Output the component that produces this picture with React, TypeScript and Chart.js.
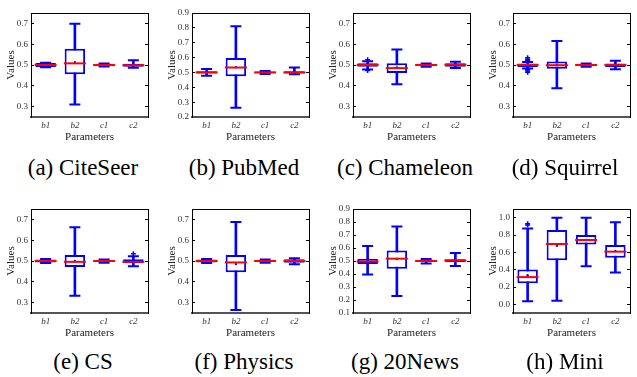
import React, { useEffect, useRef } from 'react';
import { Chart, registerables } from 'chart.js';

Chart.register(...registerables);

const PARAMETERS = ['b1', 'b2', 'c1', 'c2'];
const CAPTIONS = ['(a) CiteSeer', '(b) PubMed', '(c) Chameleon', '(d) Squirrel', '(e) CS', '(f) Physics', '(g) 20News', '(h) Mini'];

// tick values of the y axes
const TICKS_MID = [0.3, 0.4, 0.5, 0.6, 0.7];
const TICKS_PUBMED = [0.2, 0.3, 0.4, 0.5, 0.6, 0.7, 0.8, 0.9];
const TICKS_NEWS = [0.1, 0.2, 0.3, 0.4, 0.5, 0.6, 0.7, 0.8, 0.9];
const TICKS_MINI = [0.0, 0.2, 0.4, 0.6, 0.8, 1.0];

// (a) CiteSeer
const citeSeerLow = [0.489, 0.31, 0.493, 0.487];
const citeSeerQ1 = [0.4905, 0.455, 0.4935, 0.492];
const citeSeerMedian = [0.5, 0.508, 0.5, 0.499];
const citeSeerQ3 = [0.5095, 0.578, 0.5065, 0.506];
const citeSeerHigh = [0.511, 0.698, 0.507, 0.523];
const citeSeerMean = [0.5, 0.514, 0.5, 0.5];
const citeSeerOutliers: [string, number][] = [];

// (b) PubMed
const pubMedLow = [0.478, 0.262, 0.49, 0.488];
const pubMedQ1 = [0.492, 0.475, 0.494, 0.493];
const pubMedMedian = [0.5, 0.533, 0.5, 0.5];
const pubMedQ3 = [0.508, 0.597, 0.506, 0.508];
const pubMedHigh = [0.523, 0.81, 0.51, 0.533];
const pubMedMean = [0.5, 0.535, 0.5, 0.5];
const pubMedOutliers: [string, number][] = [];

// (c) Chameleon
const chameleonLow = [0.478, 0.407, 0.492, 0.486];
const chameleonQ1 = [0.491, 0.461, 0.495, 0.492];
const chameleonMedian = [0.5, 0.485, 0.5, 0.501];
const chameleonQ3 = [0.509, 0.508, 0.505, 0.509];
const chameleonHigh = [0.518, 0.575, 0.507, 0.516];
const chameleonMean = [0.5, 0.488, 0.5, 0.5];
const chameleonOutliers: [string, number][] = [['b1', 0.525], ['b1', 0.473]];

// (d) Squirrel
const squirrelLow = [0.483, 0.388, 0.492, 0.48];
const squirrelQ1 = [0.49, 0.482, 0.495, 0.49];
const squirrelMedian = [0.5, 0.499, 0.5, 0.5];
const squirrelQ3 = [0.507, 0.517, 0.505, 0.507];
const squirrelHigh = [0.515, 0.615, 0.507, 0.52];
const squirrelMean = [0.5, 0.5, 0.5, 0.5];
const squirrelOutliers: [string, number][] = [['b1', 0.522], ['b1', 0.528], ['b1', 0.535], ['b1', 0.477], ['b1', 0.471], ['b1', 0.465]];

// (e) CS
const csLow = [0.49, 0.333, 0.492, 0.475];
const csQ1 = [0.493, 0.471, 0.495, 0.49];
const csMedian = [0.5, 0.496, 0.5, 0.496];
const csQ3 = [0.507, 0.529, 0.505, 0.508];
const csHigh = [0.51, 0.662, 0.507, 0.523];
const csMean = [0.5, 0.5, 0.5, 0.499];
const csOutliers: [string, number][] = [['c2', 0.535]];

// (f) Physics
const physicsLow = [0.49, 0.264, 0.492, 0.484];
const physicsQ1 = [0.493, 0.446, 0.495, 0.492];
const physicsMedian = [0.5, 0.493, 0.5, 0.5];
const physicsQ3 = [0.507, 0.529, 0.505, 0.508];
const physicsHigh = [0.51, 0.687, 0.507, 0.513];
const physicsMean = [0.5, 0.485, 0.5, 0.5];
const physicsOutliers: [string, number][] = [];

// (g) 20News
const newsLow = [0.396, 0.231, 0.48, 0.462];
const newsQ1 = [0.476, 0.441, 0.492, 0.49];
const newsMedian = [0.497, 0.518, 0.5, 0.504];
const newsQ3 = [0.518, 0.581, 0.508, 0.513];
const newsHigh = [0.616, 0.765, 0.515, 0.562];
const newsMean = [0.498, 0.515, 0.5, 0.503];
const newsOutliers: [string, number][] = [];

// (h) Mini
const miniLow = [0.035, 0.042, 0.438, 0.367];
const miniQ1 = [0.244, 0.509, 0.689, 0.537];
const miniMedian = [0.314, 0.696, 0.742, 0.608];
const miniQ3 = [0.403, 0.859, 0.799, 0.686];
const miniHigh = [0.876, 1.0, 1.0, 0.947];
const miniMean = [0.336, 0.675, 0.742, 0.615];
const miniOutliers: [string, number][] = [['b1', 0.915], ['b1', 0.93]];

// y-axis ranges per panel: [min, max]
const AXIS_RANGES: [number, number][] = [
  [0.25, 0.75],
  [0.2, 0.9],
  [0.25, 0.75],
  [0.25, 0.75],
  [0.25, 0.75],
  [0.25, 0.75],
  [0.1, 0.9],
  [-0.1, 1.1],
];
const AXIS_TICKS = [TICKS_MID, TICKS_PUBMED, TICKS_MID, TICKS_MID, TICKS_MID, TICKS_MID, TICKS_NEWS, TICKS_MINI];

const STATS = [
  [citeSeerLow, citeSeerQ1, citeSeerMedian, citeSeerQ3, citeSeerHigh, citeSeerMean],
  [pubMedLow, pubMedQ1, pubMedMedian, pubMedQ3, pubMedHigh, pubMedMean],
  [chameleonLow, chameleonQ1, chameleonMedian, chameleonQ3, chameleonHigh, chameleonMean],
  [squirrelLow, squirrelQ1, squirrelMedian, squirrelQ3, squirrelHigh, squirrelMean],
  [csLow, csQ1, csMedian, csQ3, csHigh, csMean],
  [physicsLow, physicsQ1, physicsMedian, physicsQ3, physicsHigh, physicsMean],
  [newsLow, newsQ1, newsMedian, newsQ3, newsHigh, newsMean],
  [miniLow, miniQ1, miniMedian, miniQ3, miniHigh, miniMean],
];
const OUTLIERS = [citeSeerOutliers, pubMedOutliers, chameleonOutliers, squirrelOutliers, csOutliers, physicsOutliers, newsOutliers, miniOutliers];

const FONT = "'Liberation Serif', 'Times New Roman', 'DejaVu Serif', serif";
const BLUE = '#0000ff';
const RED = '#ff0000';

const FRAME_LEFTS = [31, 192, 353, 513];
const FRAME_TOPS = [3, 199];
const CANVAS_W = 161;
const CANVAS_H = 150;

function BoxPanel({ index }: { index: number }) {
  const ref = useRef<HTMLCanvasElement>(null);
  useEffect(() => {
    const [low, q1, median, q3, high, mean] = STATS[index];
    const outliers = OUTLIERS[index];
    const [yMin, yMax] = AXIS_RANGES[index];
    const tickValues = AXIS_TICKS[index];
    const whiskers = PARAMETERS.map((_, i) => [low[i], high[i]]);
    const boxes = PARAMETERS.map((_, i) => [q1[i], q3[i]]);
    const tickFont = { family: FONT, size: 9 };
    const yGrid = { display: true, drawOnChartArea: false, drawTicks: true, tickLength: -3, color: '#000', lineWidth: 1 };
    const setTicks = (s: any) => {
      s.ticks = tickValues.map((v) => ({ value: v }));
    };
    const chart = new Chart(ref.current as HTMLCanvasElement, {
      type: 'bar',
      data: {
        labels: PARAMETERS,
        datasets: [
          { type: 'line', label: 'median', data: median, showLine: false, pointStyle: 'line', pointRadius: 11, pointBorderWidth: 2, pointBorderColor: RED, borderColor: RED, order: 0, xAxisID: 'x', yAxisID: 'y' } as any,
          { type: 'line', label: 'outliers', data: outliers.map(([x, y]) => ({ x, y })), showLine: false, pointStyle: 'cross', pointRadius: 2.5, pointBorderWidth: 1.5, pointBorderColor: BLUE, borderColor: BLUE, order: 0, xAxisID: 'x', yAxisID: 'y' } as any,
          { type: 'line', label: 'mean', data: mean, showLine: false, pointStyle: 'circle', pointRadius: 1.2, pointBackgroundColor: BLUE, pointBorderWidth: 0, order: 1, xAxisID: 'x', yAxisID: 'y' } as any,
          { type: 'line', label: 'upper cap', data: high, showLine: false, pointStyle: 'line', pointRadius: 5.5, pointBorderWidth: 2, pointBorderColor: BLUE, borderColor: BLUE, order: 1, xAxisID: 'x', yAxisID: 'y' } as any,
          { type: 'line', label: 'lower cap', data: low, showLine: false, pointStyle: 'line', pointRadius: 5.5, pointBorderWidth: 2, pointBorderColor: BLUE, borderColor: BLUE, order: 1, xAxisID: 'x', yAxisID: 'y' } as any,
          { type: 'bar', label: 'box', data: boxes, backgroundColor: '#ffffff', borderColor: BLUE, borderWidth: 2, borderSkipped: false, grouped: false, barPercentage: 0.7, categoryPercentage: 1, order: 2, xAxisID: 'x', yAxisID: 'y' } as any,
          { type: 'bar', label: 'whisker', data: whiskers, backgroundColor: BLUE, borderWidth: 0, grouped: false, barThickness: 2, order: 3, xAxisID: 'x', yAxisID: 'y' } as any,
        ],
      },
      options: {
        responsive: false,
        animation: false,
        events: [],
        devicePixelRatio: 1,
        layout: { padding: { top: 3, right: 2, left: 0, bottom: 0 } },
        plugins: { legend: { display: false }, tooltip: { enabled: false }, title: { display: false } },
        scales: {
          x: {
            type: 'category', position: 'bottom', offset: true,
            grid: { display: false, drawTicks: false },
            border: { display: true, color: '#555', width: 2 },
            ticks: { font: { ...tickFont, style: 'italic' }, color: '#333', padding: 3, maxRotation: 0, autoSkip: false },
            title: { display: true, text: 'Parameters', font: { family: FONT, size: 11 }, color: '#222', padding: { top: 0, bottom: 6 } },
            afterFit: (s: any) => { s.height = CANVAS_H - 3 - 114; },
          },
          xTop: {
            type: 'category', position: 'top', offset: true,
            grid: { display: false, drawTicks: false },
            border: { display: true, color: '#000', width: 1 },
            ticks: { display: false },
            afterFit: (s: any) => { s.height = 0; },
          },
          y: {
            type: 'linear', position: 'left', min: yMin, max: yMax, bounds: 'data',
            grid: yGrid,
            border: { display: true, color: '#000', width: 1 },
            ticks: { padding: 6, font: tickFont, color: '#333', autoSkip: false, callback: (v: any) => Number(v).toFixed(1) },
            title: { display: true, text: 'Values', font: { family: FONT, size: 11 }, color: '#222', padding: { top: 5, bottom: 0 } },
            afterBuildTicks: setTicks,
            afterFit: (s: any) => { s.width = 31; },
          },
          yRight: {
            type: 'linear', position: 'right', min: yMin, max: yMax, bounds: 'data',
            grid: yGrid,
            border: { display: true, color: '#000', width: 1 },
            ticks: { display: false, autoSkip: false },
            afterBuildTicks: setTicks,
            afterFit: (s: any) => { s.width = 0; },
          },
        } as any,
      },
    } as any);
    return () => chart.destroy();
  }, [index]);

  const col = index % 4;
  const row = Math.floor(index / 4);
  const frameLeft = FRAME_LEFTS[col];
  const frameTop = FRAME_TOPS[row];
  const captionCenterX = frameLeft + 52;
  const captionCenterY = frameTop + (row === 0 ? 165 : 163);
  return (
    <>
      <canvas
        ref={ref}
        width={CANVAS_W}
        height={CANVAS_H}
        style={{ position: 'absolute', left: frameLeft - 31, top: frameTop - 3, width: CANVAS_W, height: CANVAS_H, display: 'block' }}
      />
      <div
        style={{
          position: 'absolute', left: captionCenterX - 100, top: captionCenterY - 14, width: 200, height: 28,
          lineHeight: '28px', textAlign: 'center', fontFamily: FONT, fontSize: 23, color: '#000', whiteSpace: 'nowrap',
        }}
      >
        {CAPTIONS[index]}
      </div>
    </>
  );
}

export default function App() {
  return (
    <div style={{ position: 'fixed', left: 0, top: 0, width: 637, height: 377, overflow: 'hidden', background: '#fff' }}>
      {CAPTIONS.map((_, i) => (
        <BoxPanel key={i} index={i} />
      ))}
    </div>
  );
}
